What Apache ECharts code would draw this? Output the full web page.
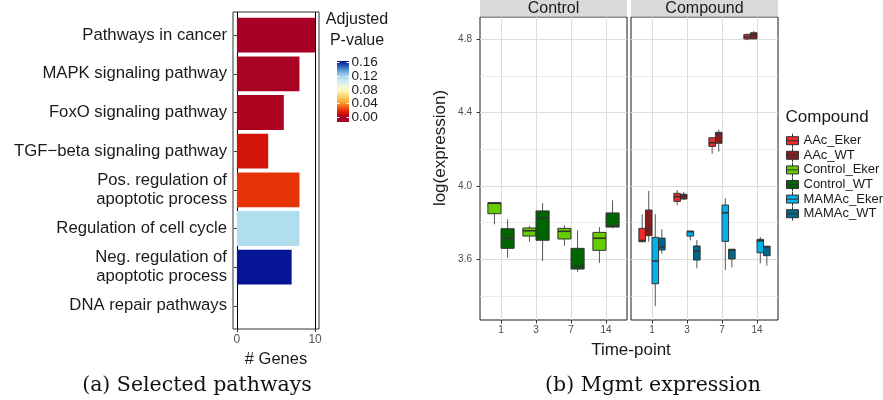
<!DOCTYPE html>
<html>
<head>
<meta charset="utf-8">
<script src="https://cdn.jsdelivr.net/npm/echarts@6/dist/echarts.min.js"></script>
<style>
  html, body { margin: 0; padding: 0; background: #ffffff; }
  #chart { width: 883px; height: 400px; }
</style>
</head>
<body>
<div id="chart"></div>
<script>
// ---------- (a) Selected pathways ----------
const pathways = [
  'Pathways in cancer',
  'MAPK signaling pathway',
  'FoxO signaling pathway',
  'TGF\u2212beta signaling pathway',
  'Pos. regulation of\napoptotic process',
  'Regulation of cell cycle',
  'Neg. regulation of\napoptotic process',
  'DNA repair pathways'
];
const geneCounts = [10, 8, 6, 4, 8, 8, 7, 0];
const adjPValues = [0.0004, 0.0012, 0.0018, 0.012, 0.021, 0.116, 0.164, 0.164];
const geneTicks = [0, 10];
const pValueTicks = [0, 0.04, 0.08, 0.12, 0.16];
// colour ramp of the adjusted p-value scale, low -> high
const pPalette = ['#a50026', '#dd1800', '#f45a12', '#fca838', '#fdcf66', '#fff0a8',
                  '#f2f9dc', '#d0ecf2', '#a8daec', '#6aa6d8', '#2c5cb6', '#061595'];
const pScaleMin = 0;
const pScaleMax = 0.164;
const colorbarLimits = [-0.0137, 0.1638];

// ---------- (b) Mgmt expression ----------
const timePoints = ['1', '3', '7', '14'];
const compounds = ['AAc_Eker', 'AAc_WT', 'Control_Eker', 'Control_WT', 'MAMAc_Eker', 'MAMAc_WT'];
const compoundColors = ['#ee2c2c', '#8b1a1a', '#66cd00', '#006400', '#00b2ee', '#00688b'];
// each row: [min, Q1, median, Q3, max] of log(expression) at time points 1, 3, 7, 14
const controlEker = [[3.790, 3.848, 3.905, 3.908, 3.908], [3.695, 3.726, 3.755, 3.770, 3.782],
                     [3.673, 3.710, 3.752, 3.768, 3.785], [3.580, 3.648, 3.714, 3.746, 3.775]];
const controlWT   = [[3.608, 3.659, 3.714, 3.766, 3.817], [3.590, 3.703, 3.823, 3.863, 3.905],
                     [3.531, 3.546, 3.561, 3.659, 3.757], [3.768, 3.775, 3.782, 3.852, 3.921]];
const aacEker     = [[3.695, 3.695, 3.702, 3.768, 3.845], [3.894, 3.915, 3.941, 3.959, 3.977],
                     [4.175, 4.215, 4.235, 4.262, 4.262], [4.795, 4.801, 4.813, 4.826, 4.830]];
const aacWT       = [[3.695, 3.728, 3.763, 3.868, 3.972], [3.924, 3.928, 3.946, 3.954, 3.966],
                     [4.186, 4.232, 4.283, 4.292, 4.306], [4.799, 4.802, 4.824, 4.835, 4.845]];
const mamacEker   = [[3.344, 3.466, 3.590, 3.719, 3.846], [3.703, 3.726, 3.750, 3.753, 3.753],
                     [3.541, 3.697, 3.853, 3.895, 3.932], [3.577, 3.635, 3.700, 3.708, 3.721]];
const mamacWT     = [[3.630, 3.650, 3.666, 3.715, 3.763], [3.550, 3.595, 3.643, 3.672, 3.704],
                     [3.555, 3.601, 3.650, 3.654, 3.654], [3.564, 3.619, 3.668, 3.670, 3.670]];
const exprMajorTicks = [3.6, 4.0, 4.4, 4.8];
const exprMinorTicks = [3.4, 3.8, 4.2, 4.6];
const exprLimits = [3.268, 4.921];

// ---------- layout ----------
const SANS = '"Liberation Sans", Arial, Helvetica, sans-serif';
const SERIF = '"DejaVu Serif", "Liberation Serif", serif';
const barGrid = { left: 233, top: 12, width: 86, height: 317 };
const cbGrid = { left: 337, top: 61, width: 12, height: 61 };
const ctrlGrid = { left: 480, top: 17, width: 147, height: 303 };
const cmpGrid = { left: 631, top: 17, width: 147, height: 303 };
const DODGE = 0.75;

const chart = echarts.init(document.getElementById('chart'), null, { renderer: 'canvas' });

function renderBar(params, api) {
  const genes = api.value(0);
  if (!(genes > 0)) return null;
  const row = api.value(1);
  const start = api.coord([0, row]);
  const end = api.coord([genes, row]);
  const h = api.size([0, 0.9])[1];
  return {
    type: 'rect',
    shape: { x: start[0], y: start[1] - h / 2, width: end[0] - start[0], height: h },
    style: { fill: api.visual('color') }
  };
}

function renderColorbar(params, api) {
  const lo = api.value(0), hi = api.value(1);
  const p0 = api.coord([0, lo]);
  const p1 = api.coord([1, hi]);
  const stops = [{ offset: 0, color: pPalette[0] }];
  pPalette.forEach(function (c, i) {
    const v = pScaleMin + i * (pScaleMax - pScaleMin) / (pPalette.length - 1);
    stops.push({ offset: Math.min(1, (v - lo) / (hi - lo)), color: c });
  });
  stops.push({ offset: 1, color: pPalette[pPalette.length - 1] });
  return {
    type: 'rect',
    shape: { x: p0[0], y: p1[1], width: p1[0] - p0[0], height: p0[1] - p1[1] },
    style: { fill: new echarts.graphic.LinearGradient(0, 1, 0, 0, stops) }
  };
}

function boxRenderer(slot, nSlots) {
  return function (params, api) {
    const xi = api.value(0);
    const unit = api.size([1, 0])[0];
    const w = DODGE / nSlots * unit;
    const base = api.coord([xi, api.value(3)]);
    const cx = base[0] + (-DODGE / 2 + (slot + 0.5) * DODGE / nSlots) * unit;
    const y = function (k) { return api.coord([xi, api.value(k)])[1]; };
    const yMin = y(1), yQ1 = y(2), yMed = y(3), yQ3 = y(4), yMax = y(5);
    const whisker = { stroke: '#555555', lineWidth: 1 };
    return {
      type: 'group',
      children: [
        { type: 'line', shape: { x1: cx, y1: yQ3, x2: cx, y2: yMax }, style: whisker },
        { type: 'line', shape: { x1: cx, y1: yQ1, x2: cx, y2: yMin }, style: whisker },
        { type: 'rect', shape: { x: cx - w / 2, y: yQ3, width: w, height: yQ1 - yQ3 },
          style: { fill: api.visual('color'), stroke: '#333333', lineWidth: 1 } },
        { type: 'line', shape: { x1: cx - w / 2, y1: yMed, x2: cx + w / 2, y2: yMed },
          style: { stroke: '#333333', lineWidth: 1.6 } }
      ]
    };
  };
}

function boxData(rows) {
  return rows.map(function (r, i) { return [i + 1].concat(r); });
}

function boxSeries(name, rows, gridAxis, slot, nSlots) {
  return {
    name: name,
    type: 'custom',
    xAxisIndex: gridAxis.x,
    yAxisIndex: gridAxis.y,
    renderItem: boxRenderer(slot, nSlots),
    encode: { x: 0, y: [1, 2, 3, 4, 5] },
    itemStyle: { color: compoundColors[compounds.indexOf(name)] },
    data: boxData(rows)
  };
}

const tickLabelGrey = '#4d4d4d';
const gridLine = { color: '#dcdcdc', width: 1 };
const minorGridLine = { color: '#e6e6e6', width: 0.8 };

function exprXAxis(gridIndex) {
  return {
    type: 'value', gridIndex: gridIndex, min: 0.4, max: 4.6,
    axisLine: { show: false },
    axisTick: { show: true, customValues: [1, 2, 3, 4], length: 3.5, lineStyle: { color: '#333333' } },
    axisLabel: { customValues: [1, 2, 3, 4], formatter: function (v) { return timePoints[v - 1]; },
                 fontFamily: SANS, fontSize: 10, color: tickLabelGrey, margin: 5 },
    splitLine: { show: true, lineStyle: gridLine }
  };
}

function exprYAxis(gridIndex, withLabels) {
  return {
    type: 'value', gridIndex: gridIndex, min: exprLimits[0], max: exprLimits[1], position: 'left',
    axisLine: { show: false },
    axisTick: { show: withLabels, customValues: exprMajorTicks, length: 3.5, lineStyle: { color: '#333333' } },
    axisLabel: { show: withLabels, customValues: exprMajorTicks, formatter: function (v) { return v.toFixed(1); },
                 fontFamily: SANS, fontSize: 10, color: tickLabelGrey, margin: 8 },
    splitLine: { show: true, lineStyle: gridLine }
  };
}

function exprMinorYAxis(gridIndex) {
  return {
    type: 'value', gridIndex: gridIndex, min: exprLimits[0], max: exprLimits[1], position: 'left',
    axisLine: { show: false },
    axisTick: { show: false, customValues: exprMinorTicks },
    axisLabel: { show: false },
    splitLine: { show: true, lineStyle: minorGridLine }
  };
}

// colour-bar labels, split over two overlaid axes so none is dropped as overlapping
function colorbarLabelAxis(gridIndex, values, withTicks) {
  return {
    type: 'value', gridIndex: gridIndex, min: colorbarLimits[0], max: colorbarLimits[1], position: 'right',
    axisLine: { show: false },
    axisTick: { show: withTicks, inside: true, customValues: pValueTicks, length: 2.5,
                lineStyle: { color: '#ffffff', width: 1 } },
    axisLabel: { customValues: values, formatter: function (v) { return v.toFixed(2); },
                 showMinLabel: true, showMaxLabel: true, hideOverlap: false,
                 fontFamily: SANS, fontSize: 13.5, color: '#1a1a1a', margin: 2.5 },
    splitLine: { show: false }, z: 5
  };
}

const option = {
  animation: false,
  backgroundColor: '#ffffff',
  textStyle: { fontFamily: SANS },
  grid: [
    Object.assign({ show: true, borderColor: '#333333', borderWidth: 1, containLabel: false }, barGrid),
    Object.assign({ show: false, containLabel: false }, cbGrid),
    Object.assign({ show: true, borderColor: '#1a1a1a', borderWidth: 1, containLabel: false }, ctrlGrid),
    Object.assign({ show: true, borderColor: '#1a1a1a', borderWidth: 1, containLabel: false }, cmpGrid),
    Object.assign({ show: false, containLabel: false }, cbGrid)
  ],
  xAxis: [
    {
      type: 'value', gridIndex: 0, min: -0.5, max: 10.5,
      axisLine: { show: false },
      axisTick: { show: true, customValues: geneTicks, length: 3, lineStyle: { color: '#333333' } },
      axisLabel: { customValues: geneTicks, fontFamily: SANS, fontSize: 12, color: '#555555', margin: 5 },
      splitLine: { show: true, lineStyle: { color: '#000000', width: 1 } },
      name: '# Genes', nameLocation: 'middle', nameGap: 11,
      nameTextStyle: { fontFamily: SANS, fontSize: 16.5, color: '#1a1a1a' }
    },
    { type: 'value', gridIndex: 1, min: 0, max: 1, show: false },
    exprXAxis(2),
    exprXAxis(3),
    { type: 'value', gridIndex: 4, min: 0, max: 1, show: false }
  ],
  yAxis: [
    {
      type: 'value', gridIndex: 0, min: 0.4, max: 8.6, inverse: true,
      axisLine: { show: false },
      axisTick: { show: true, customValues: [1, 2, 3, 4, 5, 6, 7, 8], length: 3, lineStyle: { color: '#333333' } },
      axisLabel: { customValues: [1, 2, 3, 4, 5, 6, 7, 8],
                   formatter: function (v) { return pathways[v - 1]; },
                   fontFamily: SANS, fontSize: 16.7, lineHeight: 19, color: '#1a1a1a', margin: 6, align: 'right' },
      splitLine: { show: false }
    },
    {
      type: 'value', gridIndex: 1, min: colorbarLimits[0], max: colorbarLimits[1], position: 'left',
      axisLine: { show: false },
      axisTick: { show: true, inside: true, customValues: pValueTicks, length: 2.5,
                  lineStyle: { color: '#ffffff', width: 1 } },
      axisLabel: { show: false }, splitLine: { show: false }, z: 5
    },
    colorbarLabelAxis(1, pValueTicks.filter(function (v, i) { return i % 2 === 0; }), true),
    exprYAxis(2, true),
    exprMinorYAxis(2),
    exprYAxis(3, false),
    exprMinorYAxis(3),
    colorbarLabelAxis(4, pValueTicks.filter(function (v, i) { return i % 2 === 1; }), false)
  ],
  visualMap: [{
    type: 'continuous', show: false, seriesIndex: 0, dimension: 2,
    min: pScaleMin, max: pScaleMax, inRange: { color: pPalette }
  }],
  legend: {
    orient: 'vertical', left: 786, top: 133.2, padding: 0,
    itemWidth: 12, itemHeight: 14, itemGap: -0.4,
    icon: 'path://M0 3L12 3L12 11L0 11Z M6 0L6 3 M6 11L6 14 M0 7L12 7',
    itemStyle: { borderColor: '#333333', borderWidth: 1 },
    textStyle: { fontFamily: SANS, fontSize: 13, lineHeight: 14, color: '#1a1a1a' },
    data: compounds
  },
  graphic: [
    // facet strips
    { type: 'rect', shape: { x: ctrlGrid.left, y: -2, width: ctrlGrid.width, height: 18.5 }, style: { fill: '#d9d9d9' } },
    { type: 'rect', shape: { x: cmpGrid.left, y: -2, width: cmpGrid.width, height: 18.5 }, style: { fill: '#d9d9d9' } },
    { type: 'text', x: ctrlGrid.left + ctrlGrid.width / 2, y: 8.5,
      style: { text: 'Control', align: 'center', verticalAlign: 'middle', font: '16px ' + SANS, fill: '#1a1a1a' } },
    { type: 'text', x: cmpGrid.left + cmpGrid.width / 2, y: 8.5,
      style: { text: 'Compound', align: 'center', verticalAlign: 'middle', font: '16px ' + SANS, fill: '#1a1a1a' } },
    // axis titles of panel (b)
    { type: 'text', x: 440, y: 148, rotation: Math.PI / 2,
      style: { text: 'log(expression)', align: 'center', verticalAlign: 'middle', font: '17px ' + SANS, fill: '#1a1a1a' } },
    { type: 'text', x: 631, y: 350,
      style: { text: 'Time-point', align: 'center', verticalAlign: 'middle', font: '17px ' + SANS, fill: '#1a1a1a' } },
    // legend titles
    { type: 'text', x: 357, y: 30,
      style: { text: 'Adjusted\nP-value', align: 'center', verticalAlign: 'middle', font: '16px ' + SANS,
               lineHeight: 20.7, fill: '#1a1a1a' } },
    { type: 'text', x: 785.5, y: 117,
      style: { text: 'Compound', align: 'left', verticalAlign: 'middle', font: '17px ' + SANS, fill: '#1a1a1a' } },
    // sub-figure captions
    { type: 'text', x: 197, y: 386,
      style: { text: '(a) Selected pathways', align: 'center', verticalAlign: 'middle', font: '20.5px ' + SERIF, fill: '#111111' } },
    { type: 'text', x: 653, y: 386,
      style: { text: '(b) Mgmt expression', align: 'center', verticalAlign: 'middle', font: '20.5px ' + SERIF, fill: '#111111' } }
  ],
  series: [
    {
      name: 'pathways', type: 'custom', xAxisIndex: 0, yAxisIndex: 0,
      renderItem: renderBar, encode: { x: 0, y: 1 },
      data: geneCounts.map(function (g, i) { return [g, i + 1, adjPValues[i]]; })
    },
    {
      name: 'colorbar', type: 'custom', xAxisIndex: 1, yAxisIndex: 1,
      renderItem: renderColorbar, encode: { y: [0, 1] }, silent: true,
      data: [colorbarLimits]
    },
    boxSeries('Control_Eker', controlEker, { x: 2, y: 3 }, 0, 2),
    boxSeries('Control_WT', controlWT, { x: 2, y: 3 }, 1, 2),
    boxSeries('AAc_Eker', aacEker, { x: 3, y: 5 }, 0, 4),
    boxSeries('AAc_WT', aacWT, { x: 3, y: 5 }, 1, 4),
    boxSeries('MAMAc_Eker', mamacEker, { x: 3, y: 5 }, 2, 4),
    boxSeries('MAMAc_WT', mamacWT, { x: 3, y: 5 }, 3, 4)
  ]
};

chart.setOption(option);
</script>
</body>
</html>
